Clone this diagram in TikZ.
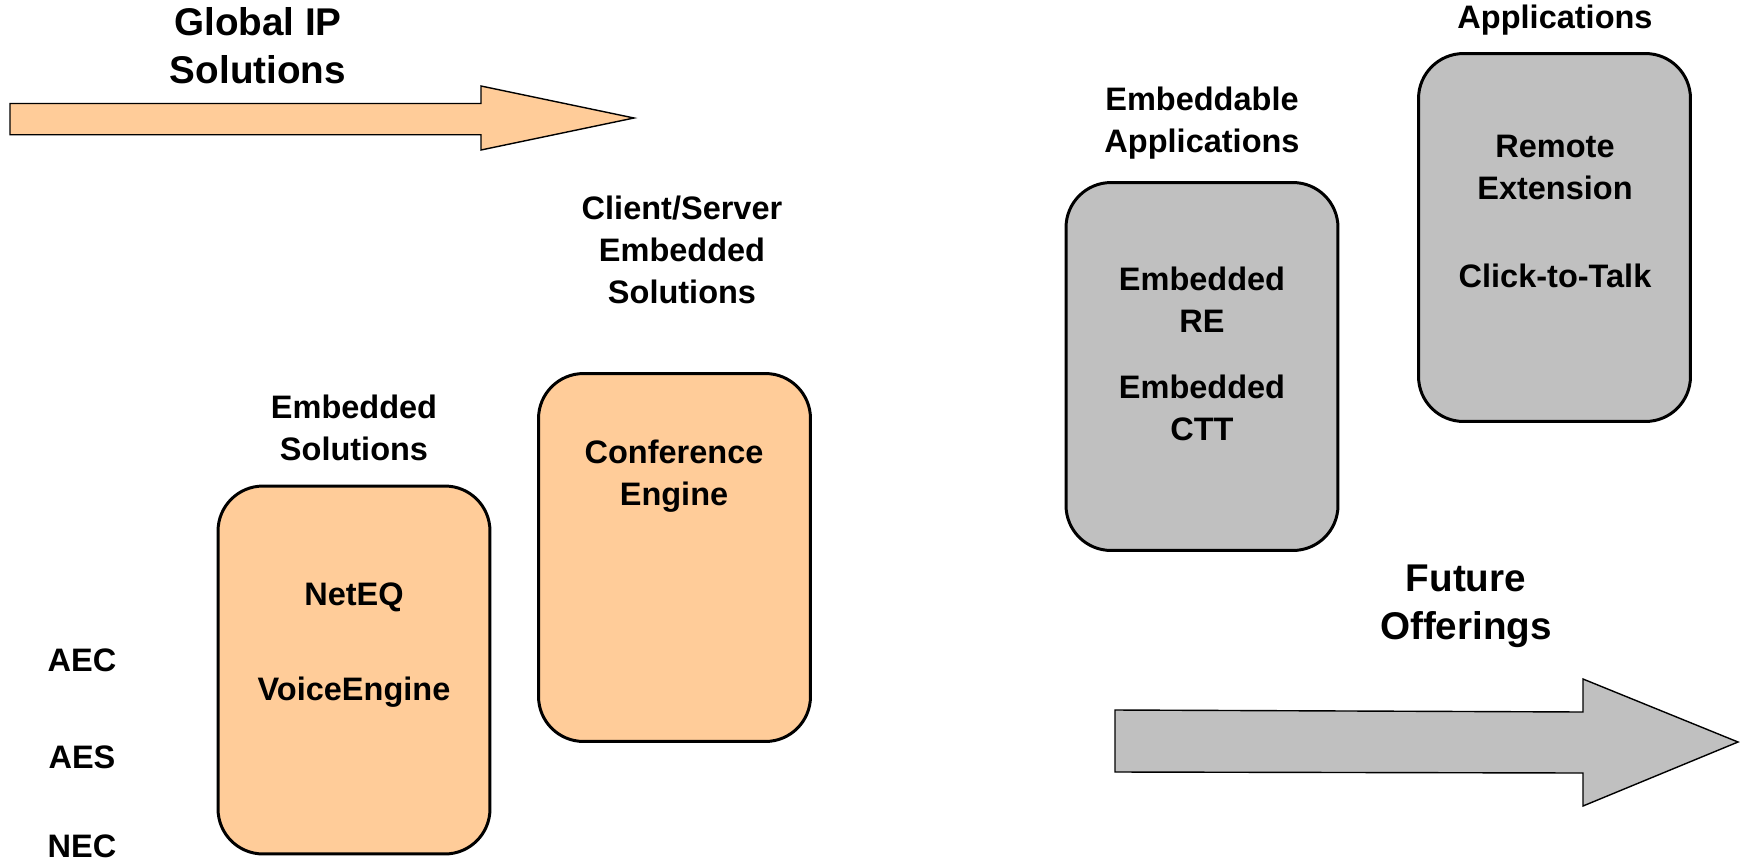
\documentclass[tikz,border=0pt]{standalone}
\usepackage{fontspec}
\setmainfont{Liberation Sans}
\usetikzlibrary{positioning}
\definecolor{peach}{HTML}{FFCC99}
\definecolor{silver}{HTML}{C0C0C0}

\begin{document}
\begin{tikzpicture}[
      x=0.02cm, y=-0.02cm,
      box/.style={
        draw=black,
        line width=1.7pt,
        rounded corners=0.9cm,
        minimum width=5.44cm,
        minimum height=7.36cm,
      },
      lbl/.style={
        font=\bfseries\fontsize{18.5}{24}\selectfont,
        align=center,
        inner sep=0pt,
      },
      big/.style={
        font=\bfseries\fontsize{22}{27}\selectfont,
        align=center,
        inner sep=0pt,
      },
      fatarrow/.style={draw=black, line width=0.8pt},
      ]
      \useasboundingbox (0,0) rectangle (1745,866);
      % big arrows
      \draw[fatarrow, fill=peach] (10,103.5) -- (481,103.5) -- (481,86) -- (634,118)
        -- (481,150) -- (481,134.7) -- (10,134.7) -- cycle;
      \draw[fatarrow, fill=silver] (1115,710) -- (1583,712) -- (1583,679) -- (1738,742)
        -- (1583,806) -- (1583,773) -- (1115,772) -- cycle;
      \node[big] (global) at (258,45.5) {Global IP\\Solutions};
      \node[big] (future) at (1466,606.5) {Future\\Offerings};
      % boxes
      \node[box, fill=peach] (emb) at (354,670) {};
      \node[box, fill=peach] (conf) at (674.5,557.5) {};
      \node[box, fill=silver] (embapp) at (1202,366.5) {};
      \node[box, fill=silver] (app) at (1554.5,237.5) {};
      % box titles
      \node[lbl] (embtitle) at (354,428) {Embedded\\Solutions};
      \node[lbl] (conftitle) at (682,250) {Client/Server\\Embedded\\Solutions};
      \node[lbl] (embapptitle) at (1202,123.5) {Embeddable\\Applications};
      \node[lbl] (apptitle) at (1555,20) {Applications};
      % box contents
      \node[lbl] (neteq) at (354,597) {NetEQ};
      \node[lbl] (voice) at (354,692) {VoiceEngine};
      \node[lbl] (confeng) at (674,476.5) {Conference\\Engine};
      \node[lbl] (embre) at (1202,299.5) {Embedded\\RE};
      \node[lbl] (embctt) at (1202,408) {Embedded\\CTT};
      \node[lbl] (remote) at (1555,167.5) {Remote\\Extension};
      \node[lbl] (ctt) at (1555,276) {Click-to-Talk};
      % left column
      \node[lbl] (aec) at (82,660) {AEC};
      \node[lbl] (aes) at (82,757) {AES};
      \node[lbl] (nec) at (82,846) {NEC};
    \end{tikzpicture}
\end{document}
